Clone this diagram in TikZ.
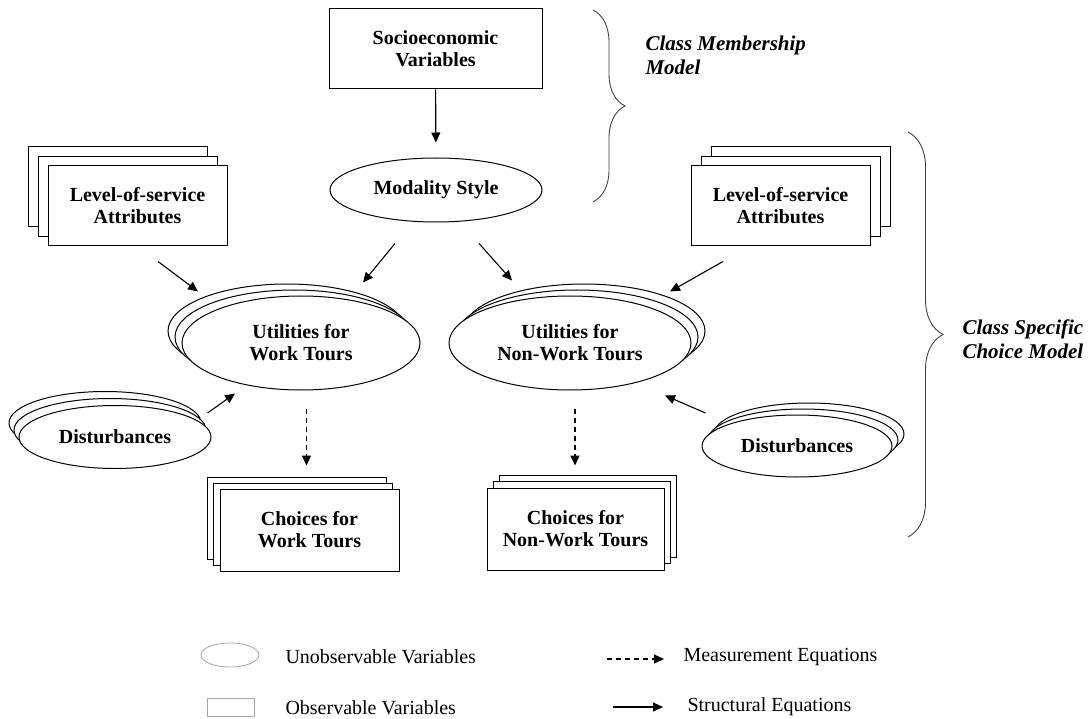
\documentclass[tikz,border=0pt]{standalone}
\usepackage{fontspec}
\setmainfont{Liberation Serif}
\usetikzlibrary{arrows.meta,shapes.geometric,shadows,decorations.pathreplacing}

\begin{document}
\begin{tikzpicture}[%
    x=1pt, y=-1pt,
    >={Triangle[length=10pt,width=9pt]},
    line width=1pt,
    var/.style={draw, fill=white, line width=1pt, align=center,
      font=\fontsize{20}{22}\selectfont\bfseries},
    obs/.style={var, rectangle, minimum width=179pt, minimum height=80pt},
    unobs/.style={var, ellipse, inner sep=0pt},
    stack/.style n args={4}{
      copy shadow={shadow xshift=#3, shadow yshift=#4,
        draw=black, fill=white, line width=1pt},
      copy shadow={shadow xshift=#1, shadow yshift=#2,
        draw=black, fill=white, line width=1pt}},
    struct/.style={->, line width=1.1pt},
    meas/.style={->, line width=1.1pt, dash pattern=on 5pt off 4pt},
    model/.style={font=\fontsize{21}{24}\selectfont\bfseries\itshape,
      align=left, anchor=west, inner sep=0pt},
    legend/.style={font=\fontsize{20}{22}\selectfont, anchor=west, inner sep=0pt},
    bracket/.style={draw=black!75, line width=0.9pt, decorate}
  ]
    \useasboundingbox (0,0) rectangle (1092,719);

    % class membership part
    \node[obs, minimum width=213pt] (socio) at (435.5,49) {Socioeconomic\\Variables};
    \node[unobs, minimum width=212pt, minimum height=64pt] (modality) at (436,190) {Modality Style};

    % class specific part
    \node[obs, stack={-10pt}{9.5pt}{-20pt}{19pt}] (losL) at (137.5,206) {Level-of-service\\Attributes};
    \node[obs, stack={10pt}{9.5pt}{20pt}{19pt}] (losR) at (780.5,206) {Level-of-service\\Attributes};
    \node[unobs, stack={-7pt}{6pt}{-14pt}{12pt}, minimum width=238pt, minimum height=94pt] (utilW) at (301,343) {Utilities for\\Work Tours};
    \node[unobs, stack={7pt}{6pt}{14pt}{12pt}, minimum width=242pt, minimum height=94pt] (utilNW) at (570,343) {Utilities for\\Non-Work Tours};
    \node[unobs, stack={-5pt}{7pt}{-10pt}{14pt}, minimum width=192pt, minimum height=63pt] (distL) at (115,437) {Disturbances};
    \node[unobs, stack={6pt}{6pt}{12pt}{12pt}, minimum width=190pt, minimum height=62pt] (distR) at (797,446) {Disturbances};
    \node[obs, stack={-7pt}{6pt}{-13pt}{12pt}, minimum height=82pt] (choW) at (309.5,530) {Choices for\\Work Tours};
    \node[obs, stack={6.5pt}{6.5pt}{12pt}{13pt}, minimum width=177pt, minimum height=82pt] (choNW) at (575.5,529) {Choices for\\Non-Work Tours};

    \draw[struct, shorten >=15pt] (socio) -- (modality);
    \draw[struct] ([shift={(-41,21)}]modality.south) -- ([shift={(62,-13)}]utilW.north);
    \draw[struct] ([shift={(43,21)}]modality.south) -- ([shift={(-58,-15)}]utilNW.north);
    \draw[struct] ([shift={(20.5,15)}]losL.south) -- ([shift={(-103,-4)}]utilW.north);
    \draw[struct] ([shift={(-57.5,15)}]losR.south) -- ([shift={(100,-4)}]utilNW.north);
    \draw[struct] ([shift={(-4,-24)}]distL.east) -- ([shift={(-66,3)}]utilW.south);
    \draw[struct] ([shift={(4,-33)}]distR.west) -- ([shift={(95,5)}]utilNW.south);
    \draw[meas] ([shift={(5.5,18)}]utilW.south) -- ([shift={(-3,-23)}]choW.north);
    \draw[meas] ([shift={(5,18)}]utilNW.south) -- ([shift={(-0.5,-22)}]choNW.north);

    % braces
    \draw[bracket, decoration={brace, amplitude=32pt}] (593,10) -- (593,202);
    \node[model] (memberText) at (645,55) {Class Membership\\Model};
    \draw[bracket, decoration={brace, amplitude=35pt}] (908,132) -- (908,537);
    \node[model] (choiceText) at (962,339) {Class Specific\\Choice Model};

    % legend
    \node[draw=black!35, ellipse, minimum width=58pt, minimum height=24pt, line width=0.8pt] (legU) at (230,655) {};
    \node[legend] (legUText) at (285,657) {Unobservable Variables};
    \node[draw=black!35, minimum width=47pt, minimum height=18pt, line width=0.8pt] (legO) at (230.5,707) {};
    \node[legend] (legOText) at (285,708) {Observable Variables};
    \coordinate (measA) at (607,659);
    \coordinate (measB) at (664,659);
    \draw[meas] (measA) -- (measB);
    \node[legend] (measText) at (683,657) {Measurement Equations};
    \coordinate (structA) at (613,707);
    \coordinate (structB) at (663,707);
    \draw[struct] (structA) -- (structB);
    \node[legend] (structText) at (687,707) {Structural Equations};
\end{tikzpicture}
\end{document}
